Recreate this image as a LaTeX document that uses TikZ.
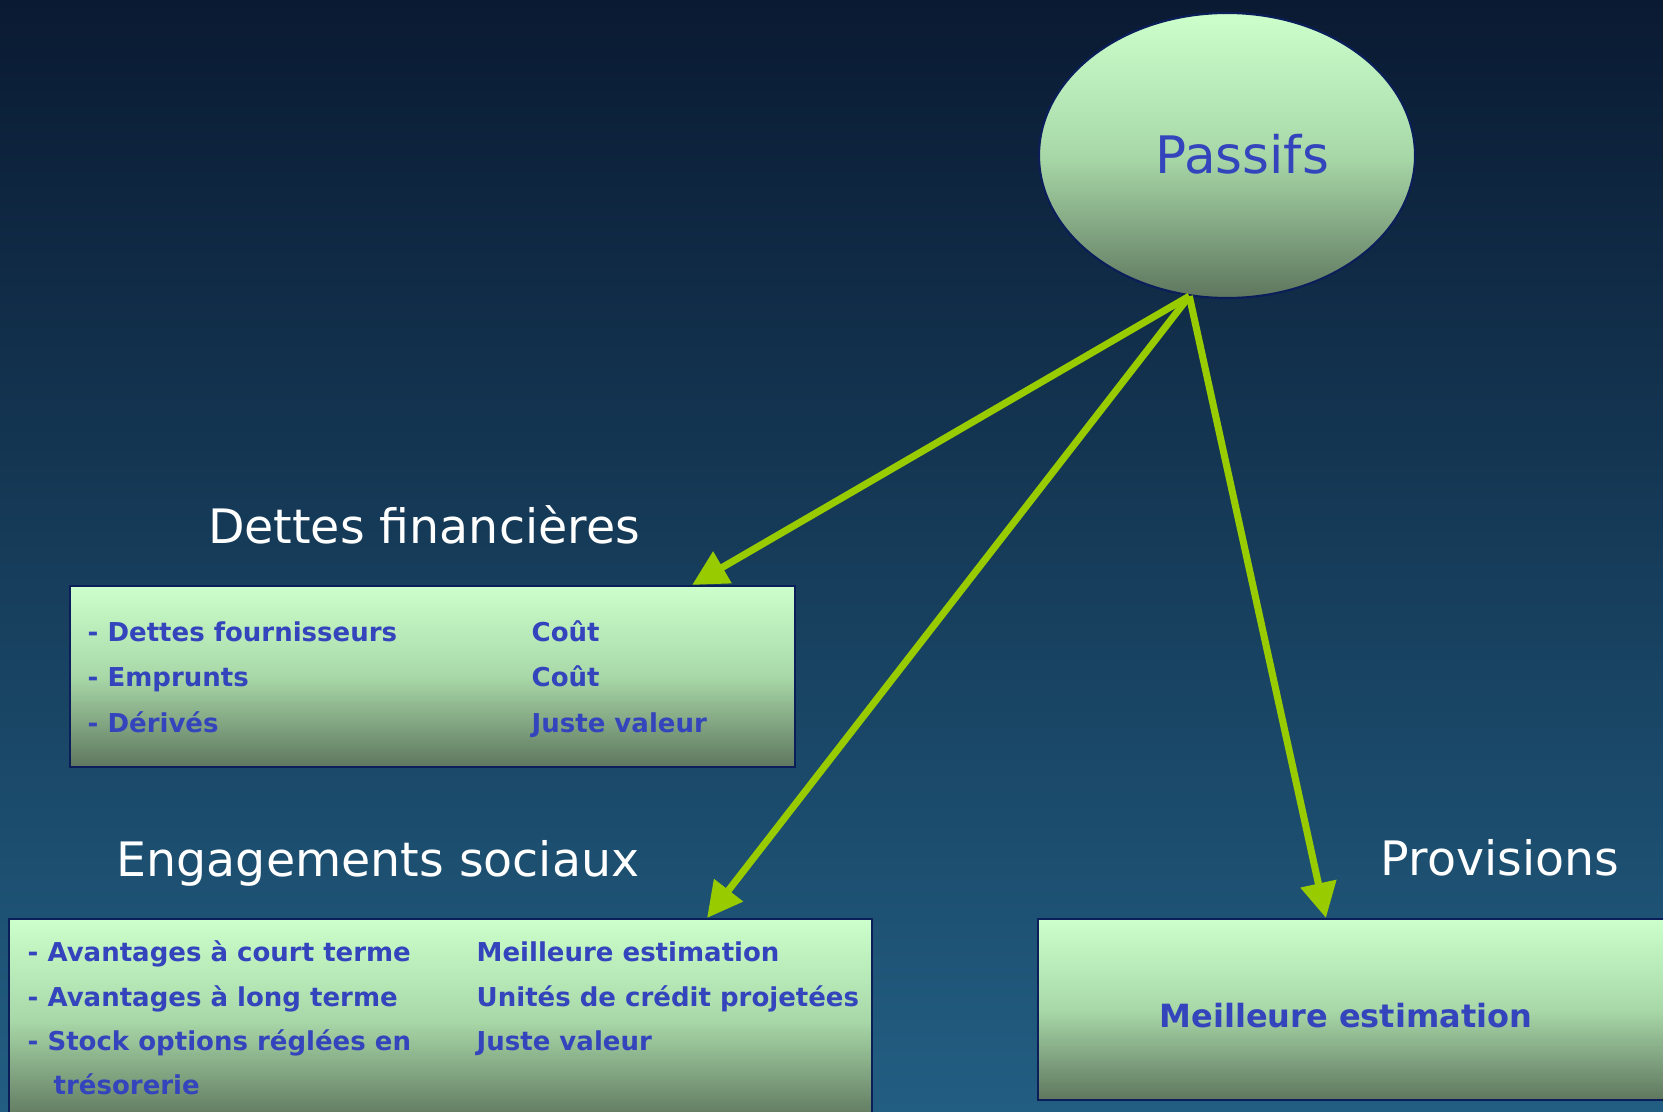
\documentclass[tikz,border=0pt]{standalone}
\usepackage{fontspec}
\setmainfont{DejaVu Sans}
\usepackage{tikz}
\usetikzlibrary{shapes.geometric,arrows.meta}

\definecolor{bgtop}{HTML}{0A1A32}
\definecolor{bgbottom}{HTML}{225E82}
\definecolor{boxtop}{HTML}{CCFFCC}
\definecolor{boxmid}{HTML}{A8D8A8}
\definecolor{boxbottom}{HTML}{5E765E}
\definecolor{boxline}{HTML}{0B1E5A}
\definecolor{itemblue}{HTML}{3444BC}
\definecolor{arrowgreen}{HTML}{99CC00}

\tikzset{
  box/.style={rectangle, draw=boxline, line width=0.6pt, inner sep=0pt,
    top color=boxtop, bottom color=boxbottom, middle color=boxmid},
  item/.style={anchor=base west, inner sep=0pt, text=itemblue,
    font=\fontsize{7.4}{8.9}\selectfont\bfseries},
  heading/.style={anchor=base, inner sep=0pt, text=white,
    font=\fontsize{13.5}{16}\selectfont},
  link/.style={draw=arrowgreen, line width=2pt,
    -{Triangle[length=10pt,width=10pt]}}
}

\begin{document}
\begin{tikzpicture}
  \useasboundingbox (0,0) rectangle (16.63,11.11);
  \shade[top color=bgtop, bottom color=bgbottom] (0,0) rectangle (16.63,11.11);

  % root
  \node[box, ellipse, minimum width=3.76cm, minimum height=2.85cm,
    text=itemblue, font=\fontsize{14.7}{17}\selectfont]
    (passifs) at (12.27,9.555) {\hspace*{0.3cm}\raisebox{1.2pt}{Passifs}};

  % group headings
  \node[heading] (dettestitle) at (4.24,5.67) {Dettes financières};
  \node[heading] (engtitle) at (3.78,2.35) {Engagements sociaux};
  \node[heading] (provtitle) at (15.0,2.36) {Provisions};

  % boxes
  \node[box, minimum width=7.25cm, minimum height=1.81cm] (dettes) at (4.325,4.345) {};
  \node[box, minimum width=8.63cm, minimum height=2.02cm] (engagements) at (4.405,0.91) {};
  \node[box, minimum width=6.42cm, minimum height=1.81cm] (provisions) at (13.59,1.015) {};

  % dettes financieres
  \node[item] (dfourn) at (0.87,4.69) {- Dettes fournisseurs};
  \node[item] (demp) at (0.87,4.24) {- Emprunts};
  \node[item] (dderiv) at (0.87,3.79) {- Dérivés};
  \node[item] (vfourn) at (5.31,4.69) {Coût};
  \node[item] (vemp) at (5.31,4.24) {Coût};
  \node[item] (vderiv) at (5.31,3.79) {Juste valeur};

  % engagements sociaux
  \node[item] (ecourt) at (0.27,1.50) {- Avantages à court terme};
  \node[item] (elong) at (0.27,1.05) {- Avantages à long terme};
  \node[item] (estock) at (0.27,0.61) {- Stock options réglées en};
  \node[item] (estock2) at (0.53,0.17) {trésorerie};
  \node[item] (vcourt) at (4.76,1.50) {Meilleure estimation};
  \node[item] (vlong) at (4.76,1.05) {Unités de crédit projetées};
  \node[item] (vstock) at (4.76,0.61) {Juste valeur};

  % provisions
  \node[item, font=\fontsize{9.1}{11}\selectfont\bfseries] (vprov) at (11.59,0.84) {Meilleure estimation};

  % links
  \draw[link] (passifs.255) -- ([xshift=-1.04cm]dettes.north east);
  \draw[link] (passifs.255) -- ([xshift=-1.66cm]engagements.north east);
  \draw[link] (passifs.255) -- ([xshift=2.89cm]provisions.north west);
\end{tikzpicture}
\end{document}
